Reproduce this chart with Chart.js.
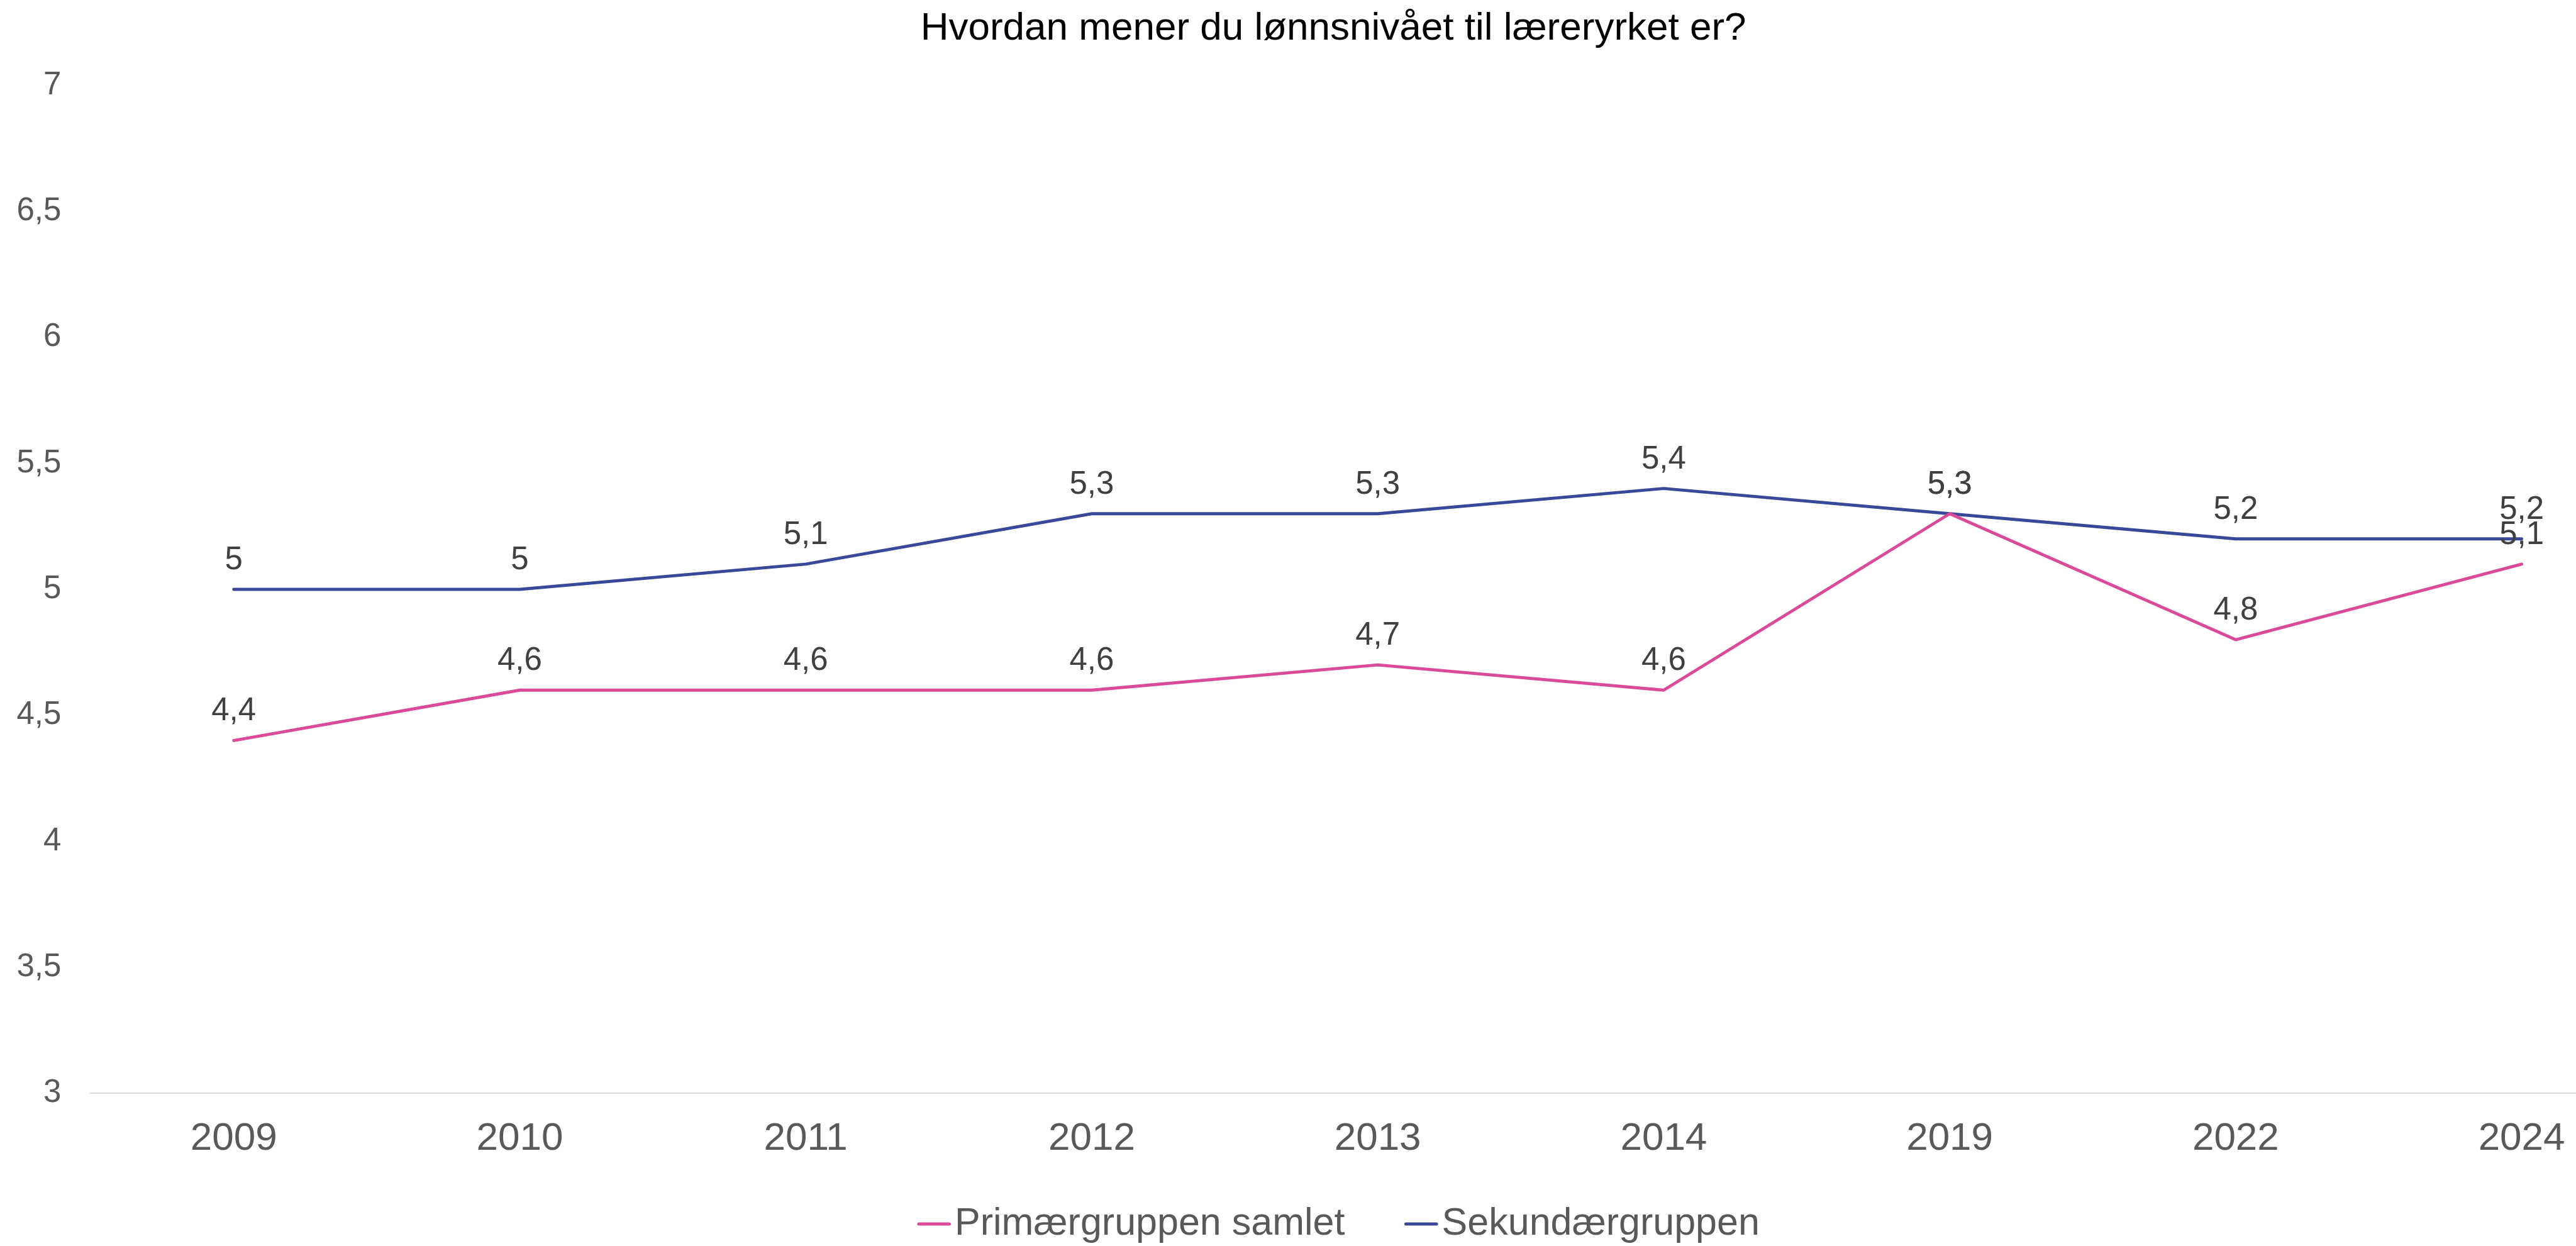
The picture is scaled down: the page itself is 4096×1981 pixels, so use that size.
<!DOCTYPE html>
<html lang="no">
<head>
<meta charset="utf-8">
<title>Lønnsnivået til læreryrket</title>
<script src="https://cdn.jsdelivr.net/npm/chart.js"></script>
<style>
  html, body { margin:0; padding:0; background:#ffffff; }
  canvas { display:block; }
</style>
</head>
<body>
<canvas id="graficaLonn" width="4096" height="1981"></canvas>
<script>
// Data lest av figuren
const aar = ["2009", "2010", "2011", "2012", "2013", "2014", "2019", "2022", "2024"];
const primaer = [4.4, 4.6, 4.6, 4.6, 4.7, 4.6, 5.3, 4.8, 5.1];
const sekundaer = [5, 5, 5.1, 5.3, 5.3, 5.4, 5.3, 5.2, 5.2];
const yTicks = [3, 3.5, 4, 4.5, 5, 5.5, 6, 6.5, 7];
const serieNavn = ["Primærgruppen samlet", "Sekundærgruppen"];
const tittel = "Hvordan mener du lønnsnivået til læreryrket er?";

const farger = ["#DA4A98", "#3A4899"];
const FONT = "'Liberation Sans', Arial, sans-serif";

const komma = v => String(v).replace(".", ",");

// Verdietiketter over hvert punkt
const etikettPlugin = {
  id: "etiketter",
  afterDatasetsDraw(chart) {
    const ctx = chart.ctx;
    ctx.save();
    ctx.font = `51px ${FONT}`;
    ctx.fillStyle = "#404040";
    ctx.textAlign = "center";
    ctx.textBaseline = "middle";
    chart.data.datasets.forEach((ds, i) => {
      chart.getDatasetMeta(i).data.forEach((el, j) => {
        ctx.fillText(komma(ds.data[j].y), el.x, el.y - 46);
      });
    });
    ctx.restore();
  }
};

// Egen forklaring: kort strek tett inntil teksten
const forklaringPlugin = {
  id: "forklaring",
  afterDraw(chart) {
    const ctx = chart.ctx;
    const area = chart.chartArea;
    const strekB = 53.6, mellomTekst = 6, mellomSerie = 94.6;
    ctx.save();
    ctx.font = `61px ${FONT}`;
    const bredder = serieNavn.map(n => ctx.measureText(n).width);
    const total = bredder.reduce((a, b) => a + b, 0) + serieNavn.length * (strekB + mellomTekst) + mellomSerie * (serieNavn.length - 1);
    let x = (area.left + area.right) / 2 - total / 2 + 8;
    const y = chart.height - 35;
    ctx.textBaseline = "middle";
    ctx.textAlign = "left";
    serieNavn.forEach((navn, i) => {
      ctx.strokeStyle = farger[i];
      ctx.lineWidth = 5;
      ctx.lineCap = "round";
      ctx.beginPath();
      ctx.moveTo(x + 2.5, y);
      ctx.lineTo(x + strekB - 2.5, y);
      ctx.stroke();
      x += strekB + mellomTekst;
      ctx.fillStyle = "#595959";
      ctx.fillText(navn, x, y);
      x += bredder[i] + mellomSerie;
    });
    ctx.restore();
  }
};

const serie = (navn, verdier, farge) => ({
  label: navn,
  data: verdier.map((v, i) => ({ x: i, y: v })),
  borderColor: farge,
  backgroundColor: farge,
  borderWidth: 4.9,
  borderCapStyle: "round",
  borderJoinStyle: "round",
  pointRadius: 0,
  pointHoverRadius: 0,
  tension: 0,
  fill: false
});

new Chart(document.getElementById("graficaLonn").getContext("2d"), {
  type: "line",
  data: {
    datasets: [
      serie(serieNavn[0], primaer, farger[0]),
      serie(serieNavn[1], sekundaer, farger[1])
    ]
  },
  options: {
    responsive: false,
    animation: false,
    devicePixelRatio: 1,
    layout: { padding: { top: 0, left: 0, right: 0, bottom: 133.2 } },
    plugins: {
      legend: { display: false },
      tooltip: { enabled: false },
      title: {
        display: true,
        text: tittel,
        color: "#000000",
        fullSize: false,
        font: { family: FONT, size: 62, weight: "normal" },
        padding: { top: 8.8, bottom: 52.3 }
      }
    },
    scales: {
      x: {
        type: "linear",
        min: -0.5,
        max: 8.19,
        grid: { display: false, drawTicks: false },
        border: { display: true, color: "#D9D9D9", width: 2 },
        afterBuildTicks: s => { s.ticks = aar.map((_, i) => ({ value: i })); },
        afterFit: s => { s.height = 35 + 62 * 1.2; s.paddingLeft = 0; s.paddingRight = 0; },
        ticks: {
          callback: v => aar[v],
          color: "#595959",
          font: { family: FONT, size: 62 },
          padding: 35,
          maxRotation: 0,
          autoSkip: false
        }
      },
      y: {
        min: yTicks[0],
        max: yTicks[yTicks.length - 1],
        grid: { display: false, drawTicks: false },
        border: { display: false },
        afterBuildTicks: s => { s.ticks = yTicks.map(v => ({ value: v })); },
        afterFit: s => { s.width = 144.3; s.paddingTop = 0; s.paddingBottom = 0; },
        ticks: {
          callback: v => komma(v),
          color: "#595959",
          font: { family: FONT, size: 51 },
          padding: 47
        }
      }
    }
  },
  plugins: [etikettPlugin, forklaringPlugin]
});
</script>
</body>
</html>
